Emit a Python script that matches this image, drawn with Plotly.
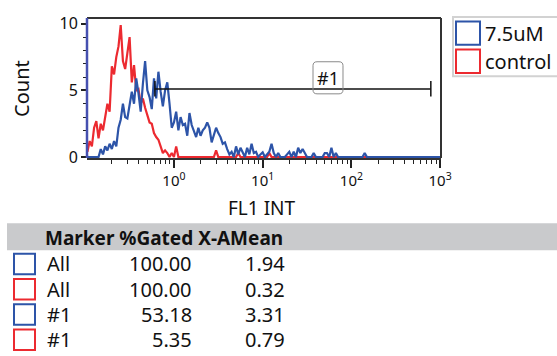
import numpy as np
import plotly.graph_objects as go

# ---------------- data ----------------
channel_step = 0.025          # histogram channel width in decades
channel_start = -1.0          # log10 of first channel

counts_control = [
    1.0, 0.4, 1.2, 0.8, 2.2, 2.7, 1.4, 2.5, 2.0, 3.2,
    4.0, 3.4, 6.8, 6.2, 7.5, 8.3, 9.9, 7.2, 6.6, 7.8,
    9.0, 5.6, 6.9, 5.0, 5.1, 4.0, 4.4, 3.7, 3.2, 2.6,
    2.5, 1.8, 1.5, 1.3, 0.8, 0.3, 0.5, 0.3, 0, 0.3,
    0, 0.8, 0, 0, 0, 0, 0, 0, 0, 0,
    0, 0, 0, 0, 0, 0, 0, 0, 0, 0.5,
    0, 0, 0, 0, 0, 0, 0, 0, 0, 0.3,
    0, 0, 0, 0, 0, 0, 0, 0, 0, 0,
    0, 0, 0, 0.3, 0, 0, 0, 0, 0, 0,
    0, 0, 0, 0, 0, 0, 0, 0, 0, 0,
    0, 0, 0, 0, 0, 0, 0, 0, 0, 0,
    0, 0, 0, 0, 0, 0, 0, 0, 0, 0,
    0, 0, 0, 0, 0, 0, 0, 0, 0, 0,
    0, 0, 0, 0, 0, 0, 0, 0, 0, 0,
    0, 0, 0, 0, 0, 0, 0, 0, 0, 0,
    0, 0, 0, 0, 0, 0, 0, 0, 0, 0,
    0, 0,
]

counts_75uM = [
    0.5, 0, 0, 0, 0, 0, 0, 0.6, 0.2, 0.8,
    0.5, 1.0, 0.6, 1.2, 0.8, 2.2, 2.8, 4.0, 3.0, 2.9,
    3.8, 4.9, 4.0, 5.9, 4.8, 3.4, 5.5, 7.2, 5.0, 4.5,
    3.6, 5.9, 4.4, 6.4, 4.9, 3.8, 5.0, 5.6, 4.0, 2.2,
    2.6, 3.4, 2.0, 3.0, 2.4, 2.5, 1.6, 3.3, 2.4, 2.0,
    1.5, 2.2, 1.6, 2.0, 2.2, 2.6, 2.2, 1.1, 1.6, 2.2,
    1.8, 1.5, 1.0, 1.1, 0.6, 0.2, 0.4, 0, 0.8, 0.2,
    0.7, 0.3, 0, 0.7, 0.2, 1.0, 0.3, 0.4, 0, 0.2,
    0.35, 0, 0.2, 0.4, 1.0, 0.3, 0, 0.3, 0, 0,
    0, 0.2, 0.4, 0, 0.4, 0, 0.7, 0.3, 0.6, 0.3,
    0, 0, 0, 0.3, 0, 0, 0, 0, 0.3, 0.3,
    0, 0.7, 0, 0.3, 0, 0, 0, 0, 0, 0,
    0, 0, 0, 0, 0, 0, 0.3, 0, 0, 0,
    0, 0, 0, 0, 0, 0, 0, 0, 0, 0,
    0, 0, 0, 0, 0, 0, 0, 0, 0, 0,
    0, 0, 0, 0, 0, 0, 0, 0, 0, 0,
    0, 0,
]

series_names = ["7.5uM", "control"]
series_colors = ["#2d54a8", "#ec2a30"]

gate_range = [0.61, 786]
gate_level = 5.1
gate_name = "#1"

x_tick_vals = [1, 10, 100, 1000]
x_tick_text = ["10<sup>0</sup>", "10<sup>1</sup>", "10<sup>2</sup>", "10<sup>3</sup>"]
y_tick_vals = [0, 5, 10]
x_title = "FL1 INT"
y_title = "Count"

table_header = ["Marker", "%Gated", "X-AMean"]
table_marker = ["All", "All", "#1", "#1"]
table_gated = [100.00, 100.00, 53.18, 5.35]
table_mean = [1.94, 0.32, 3.31, 0.79]
table_series = [0, 1, 0, 1]

# ---------------- layout geometry (pixels) ----------------
W, H = 557, 356
L, R, T, B = 87, 441, 14, 158
FONT = "Noto Sans"
INK = "#111111"


def px(x):
    return (x - L) / (R - L)


def py(y):
    return (B - y) / (B - T)


chan = 10 ** (channel_start + channel_step * np.arange(len(counts_75uM)))

fig = go.Figure()
fig.add_trace(go.Scatter(x=chan, y=counts_control, mode="lines",
                         line=dict(color=series_colors[1], width=2.2),
                         name=series_names[1], showlegend=False))
fig.add_trace(go.Scatter(x=chan, y=counts_75uM, mode="lines",
                         line=dict(color=series_colors[0], width=2.2),
                         name=series_names[0], showlegend=False))

# gate marker
tick_lo, tick_hi = gate_level - 0.55, gate_level + 0.6
fig.add_trace(go.Scatter(x=[gate_range[0], gate_range[1]], y=[gate_level, gate_level],
                         mode="lines", line=dict(color="#111", width=1.5),
                         showlegend=False, hoverinfo="skip"))
fig.add_trace(go.Scatter(x=[gate_range[0], gate_range[0], None, gate_range[1], gate_range[1]],
                         y=[tick_lo, tick_hi, None, tick_lo, tick_hi],
                         mode="lines", line=dict(color="#111", width=1.5),
                         showlegend=False, hoverinfo="skip"))

shapes = []
annotations = []

# frame
shapes.append(dict(type="line", xref="paper", yref="paper", x0=0, x1=1, y0=1, y1=1,
                   line=dict(color="#333", width=2)))
shapes.append(dict(type="line", xref="paper", yref="paper", x0=1, x1=1, y0=0, y1=1,
                   line=dict(color="#333", width=2)))
shapes.append(dict(type="line", xref="paper", yref="paper", x0=0, x1=0, y0=0, y1=1,
                   line=dict(color="#4650b0", width=2.5)))

# gate label with rounded box
bx0, bx1, by0, by1, rr = 313, 343, 59, 92, 4
pts = [
    ("M", (bx0 + rr, by0)), ("L", (bx1 - rr, by0)), ("Q", (bx1, by0), (bx1, by0 + rr)),
    ("L", (bx1, by1 - rr)), ("Q", (bx1, by1), (bx1 - rr, by1)),
    ("L", (bx0 + rr, by1)), ("Q", (bx0, by1), (bx0, by1 - rr)),
    ("L", (bx0, by0 + rr)), ("Q", (bx0, by0), (bx0 + rr, by0)),
]
path = ""
for seg in pts:
    cmd = seg[0]
    coords = " ".join(f"{px(a):.5f},{py(b):.5f}" for a, b in seg[1:])
    path += f"{cmd} {coords} "
path += "Z"
shapes.append(dict(type="path", xref="paper", yref="paper", path=path,
                   line=dict(color="#8a8a8a", width=1)))
annotations.append(dict(xref="paper", yref="paper", x=px(328), y=py(76), text=gate_name,
                        showarrow=False, font=dict(family=FONT, size=18, color=INK),
                        xanchor="center", yanchor="middle"))

# axis titles
annotations.append(dict(xref="paper", yref="paper", x=px(22), y=py(87), text=y_title,
                        textangle=-90, showarrow=False,
                        font=dict(family=FONT, size=20, color=INK),
                        xanchor="center", yanchor="middle"))
annotations.append(dict(xref="paper", yref="paper", x=px(262), y=py(209), text=x_title,
                        showarrow=False, font=dict(family=FONT, size=19, color=INK),
                        xanchor="center", yanchor="middle"))

# legend (manual)
shapes.append(dict(type="rect", xref="paper", yref="paper", x0=px(453), x1=px(562),
                   y0=py(13), y1=py(74), line=dict(color="#d2d2d2", width=2),
                   fillcolor="white"))
for k, (nm, col) in enumerate(zip(series_names, series_colors)):
    yc = 29.5 + 29 * k
    shapes.append(dict(type="rect", xref="paper", yref="paper", x0=px(456), x1=px(480),
                       y0=py(yc - 12), y1=py(yc + 12), line=dict(color=col, width=2)))
    annotations.append(dict(xref="paper", yref="paper", x=px(483), y=py(yc), text=nm,
                            showarrow=False, font=dict(family=FONT, size=20, color=INK),
                            xanchor="left", yanchor="middle"))

# statistics table
shapes.append(dict(type="rect", xref="paper", yref="paper", x0=px(7), x1=px(560),
                   y0=py(225), y1=py(253), fillcolor="#c9cacc", line=dict(width=0),
                   layer="below"))
annotations.append(dict(xref="paper", yref="paper", x=px(43), y=py(240),
                        text="<b>" + " ".join(table_header) + "</b>", showarrow=False,
                        font=dict(family=FONT, size=19, color=INK),
                        xanchor="left", yanchor="middle"))
row_y = [267, 293, 319, 345]
for k in range(len(table_marker)):
    yc = row_y[k]
    col = series_colors[table_series[k]]
    shapes.append(dict(type="rect", xref="paper", yref="paper", x0=px(14), x1=px(35),
                       y0=py(yc - 10.5), y1=py(yc + 10.5), line=dict(color=col, width=2)))
    annotations.append(dict(xref="paper", yref="paper", x=px(45), y=py(yc),
                            text=table_marker[k], showarrow=False,
                            font=dict(family=FONT, size=20, color=INK),
                            xanchor="left", yanchor="middle"))
    annotations.append(dict(xref="paper", yref="paper", x=px(194), y=py(yc),
                            text=f"{table_gated[k]:.2f}", showarrow=False,
                            font=dict(family=FONT, size=20, color=INK),
                            xanchor="right", yanchor="middle"))
    annotations.append(dict(xref="paper", yref="paper", x=px(287), y=py(yc),
                            text=f"{table_mean[k]:.2f}", showarrow=False,
                            font=dict(family=FONT, size=20, color=INK),
                            xanchor="right", yanchor="middle"))

minor_x = [m * 10 ** d for d in range(-1, 3) for m in range(2, 10)]

fig.update_layout(
    width=W, height=H,
    margin=dict(l=L, r=W - R, t=T, b=H - B),
    paper_bgcolor="white", plot_bgcolor="white",
    showlegend=False,
    font=dict(family=FONT, color=INK),
    shapes=shapes, annotations=annotations,
    xaxis=dict(type="log", range=[-0.98, 3.01], tickmode="array",
               tickvals=x_tick_vals, ticktext=x_tick_text,
               ticks="outside", ticklen=8, tickwidth=1.5, tickcolor="#222",
               showline=True, linecolor="#333", linewidth=2, layer="below traces",
               showgrid=False, zeroline=False,
               tickfont=dict(family=FONT, size=15, color=INK),
               minor=dict(tickmode="array", tickvals=minor_x, ticks="outside",
                          ticklen=4, tickwidth=1.2, tickcolor="#222", showgrid=False)),
    yaxis=dict(range=[-0.07, 10.43], tickmode="array", tickvals=y_tick_vals,
               ticks="outside", ticklen=5, tickwidth=1.5, tickcolor="#222",
               showline=False, showgrid=False, zeroline=False,
               tickfont=dict(family=FONT, size=16, color=INK),
               minor=dict(tick0=0, dtick=1, ticks="outside", ticklen=3,
                          tickwidth=1, tickcolor="#222", showgrid=False)),
)

fig.write_html("out.html")
